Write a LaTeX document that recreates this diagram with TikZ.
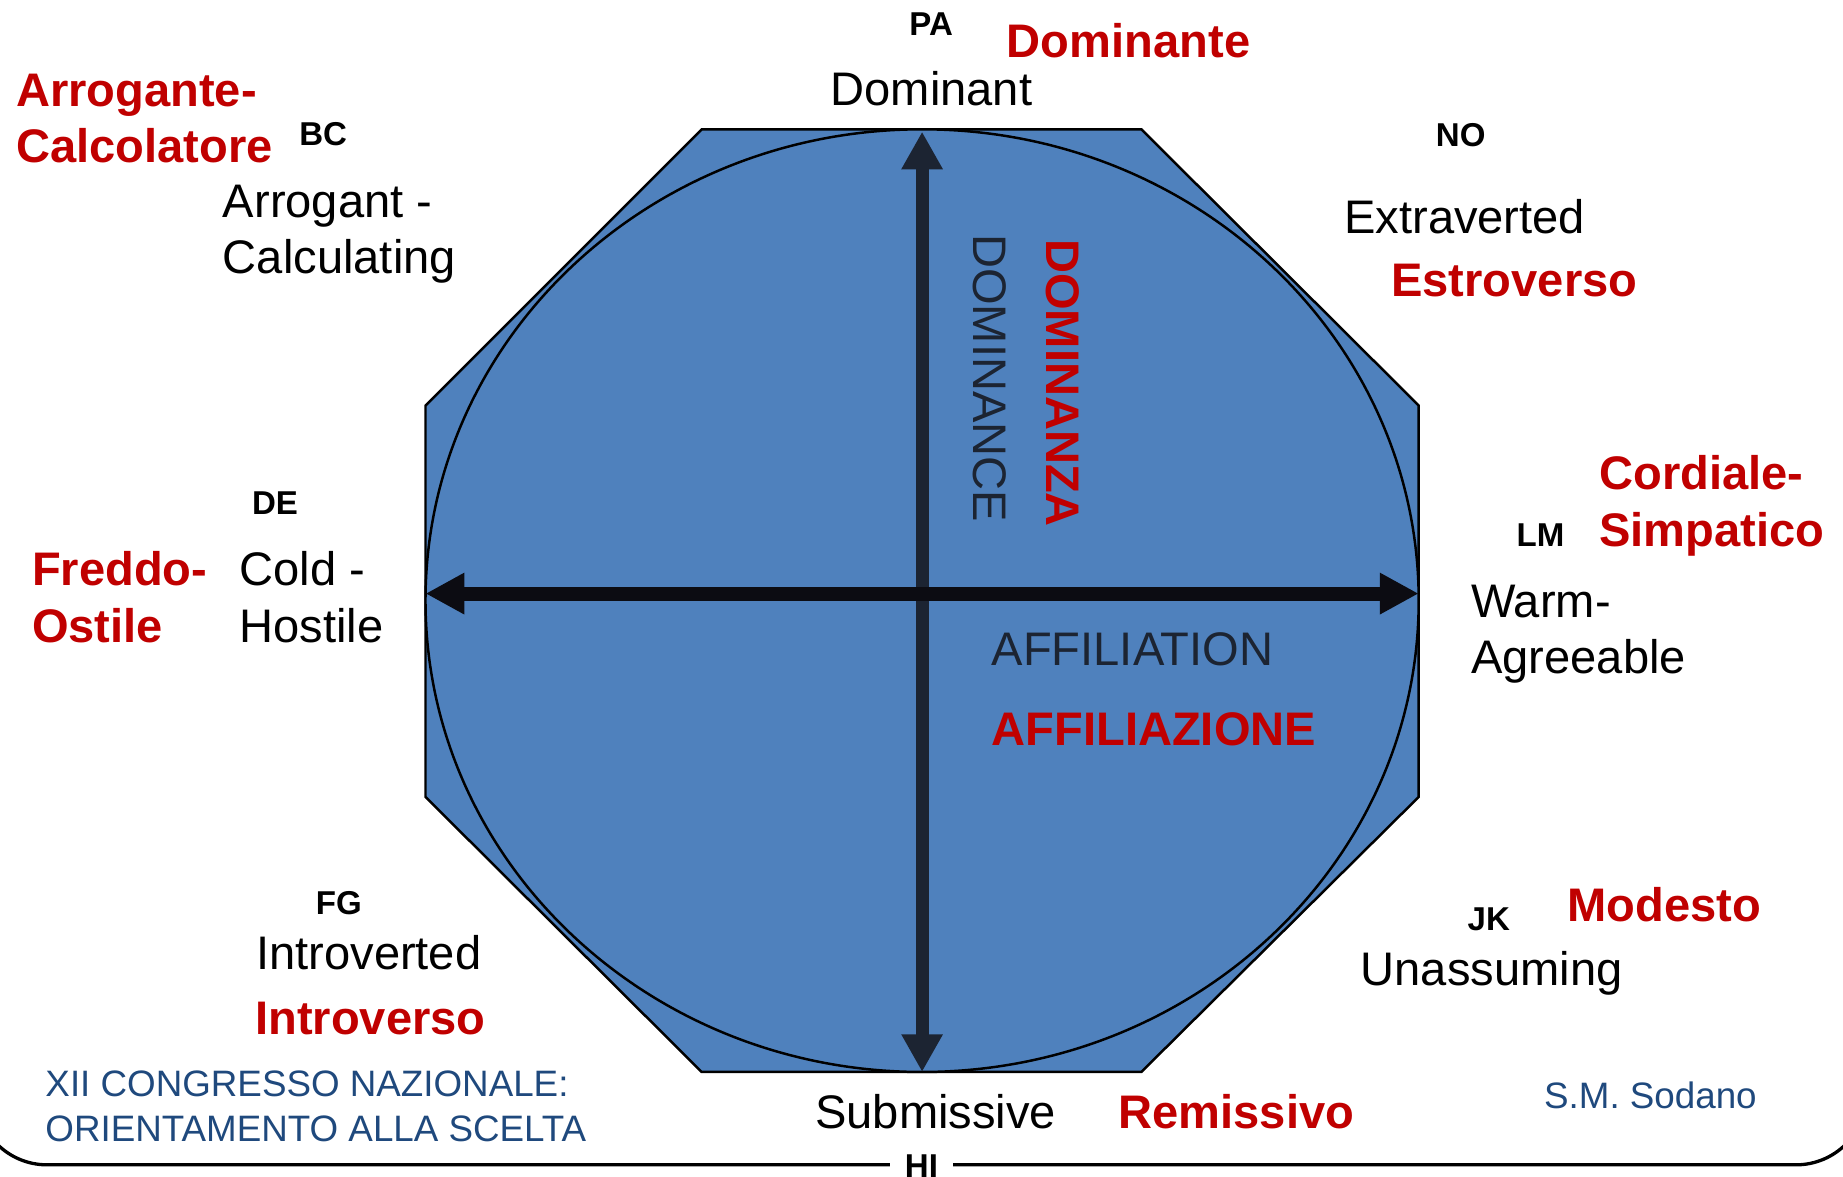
\documentclass[tikz,border=0pt]{standalone}
\usepackage{fontspec}
\setmainfont{Liberation Sans}
\usepackage{xcolor}
\usepackage{tikz}
\usetikzlibrary{arrows.meta}
\usetikzlibrary{shapes,arrows,positioning}

\definecolor{octblue}{RGB}{79,129,189}
\definecolor{itared}{RGB}{192,0,0}
\definecolor{footblue}{RGB}{31,73,125}
\definecolor{axisdark}{RGB}{28,36,50}
\definecolor{barblack}{RGB}{12,12,18}

\tikzset{
    codelabel/.style={inner sep=0pt, anchor=base west, font=\fontsize{8}{9.6}\selectfont\bfseries},
    englabel/.style={inner sep=0pt, anchor=base west, align=left, font=\fontsize{11.4}{13.7}\selectfont},
    itlabel/.style={inner sep=0pt, anchor=base west, align=left, text=itared, font=\fontsize{11.4}{13.7}\selectfont\bfseries},
    footlabel/.style={inner sep=0pt, anchor=base west, align=left, text=footblue, font=\fontsize{8.9}{10.9}\selectfont},
    octagon/.style={line width=0.6pt, fill=octblue, draw=black},
    vaxis/.style={draw=axisdark, line width=0.11cm,
        arrows={Triangle[length=0.32cm,width=0.33cm]-Triangle[length=0.32cm,width=0.33cm]}},
    haxis/.style={draw=barblack, line width=0.12cm,
        arrows={Triangle[length=0.33cm,width=0.33cm]-Triangle[length=0.33cm,width=0.33cm]}},
}

\begin{document}
\begin{tikzpicture}
                \useasboundingbox (0,0) rectangle (15.68,-10.01);

                \draw[
                    line width=0.8pt,
                    rounded corners=0.6cm
                ] (-0.2,-8.6) -- (-0.2,-9.91) -- (15.88,-9.91) -- (15.88,-8.6);

                \draw[octagon] (5.97,-1.10) -- (9.71,-1.10) -- (12.07,-3.45) -- (12.07,-6.78)
                    -- (9.71,-9.12) -- (5.97,-9.12) -- (3.62,-6.78) -- (3.62,-3.45) -- cycle;

                \draw[octagon] (7.845,-5.11) ellipse [x radius=4.225, y radius=4.01];

                \coordinate (top) at (7.845,-1.12);
                \coordinate (bottom) at (7.845,-9.12);
                \coordinate (left) at (3.62,-5.05);
                \coordinate (right) at (12.07,-5.05);

                \draw[vaxis] (bottom) -- (top);
                \draw[haxis] (left) -- (right);

                \node[englabel, text=axisdark, rotate=-90] (dominance) at (8.286,-1.985) {DOMINANCE};
                \node[itlabel, rotate=-90] (dominanza) at (8.905,-2.028) {DOMINANZA};
                \node[englabel, text=axisdark] (affiliation) at (8.43,-5.66) {AFFILIATION};
                \node[itlabel] (affiliazione) at (8.43,-6.344) {AFFILIAZIONE};

                \node[codelabel] (pa) at (7.73,-0.30) {PA};
                \node[itlabel] (dominante) at (8.56,-0.49) {Dominante};
                \node[englabel] (dominant) at (7.06,-0.90) {Dominant};

                \node[itlabel] (arrogante) at (0.13,-1.384) {Arrogante-\\Calcolatore};
                \node[codelabel] (bc) at (2.54,-1.24) {BC};
                \node[englabel] (arrogant) at (1.89,-2.33) {Arrogant -\\Calculating};

                \node[codelabel] (no) at (12.21,-1.25) {NO};
                \node[englabel] (extraverted) at (11.43,-1.985) {Extraverted};
                \node[itlabel] (estroverso) at (11.83,-2.524) {Estroverso};

                \node[itlabel] (cordiale) at (13.60,-4.649) {Cordiale-\\Simpatico};
                \node[codelabel] (lm) at (12.897,-4.649) {LM};
                \node[englabel] (warm) at (12.51,-5.731) {Warm-\\Agreeable};

                \node[codelabel] (de) at (2.138,-4.376) {DE};
                \node[itlabel] (freddo) at (0.266,-5.465) {Freddo-\\Ostile};
                \node[englabel] (cold) at (2.032,-5.465) {Cold -\\Hostile};

                \node[codelabel] (fg) at (2.68,-7.783) {FG};
                \node[englabel] (introverted) at (2.173,-8.252) {Introverted};
                \node[itlabel] (introverso) at (2.165,-8.80) {Introverso};

                \node[codelabel] (jk) at (12.48,-7.918) {JK};
                \node[itlabel] (modesto) at (13.33,-7.843) {Modesto};
                \node[englabel] (unassuming) at (11.57,-8.381) {Unassuming};

                \node[englabel] (submissive) at (6.93,-9.60) {Submissive};
                \node[itlabel] (remissivo) at (9.51,-9.60) {Remissivo};
                \node[codelabel, anchor=base, fill=white, inner xsep=0.13cm, inner ysep=0.05cm] (hi) at (7.84,-10.02) {HI};

                \node[footlabel] (congresso) at (0.38,-9.713) {XII CONGRESSO NAZIONALE:\\ORIENTAMENTO ALLA SCELTA};
                \node[footlabel] (sodano) at (13.13,-9.43) {S.M. Sodano};
\end{tikzpicture}
\end{document}
